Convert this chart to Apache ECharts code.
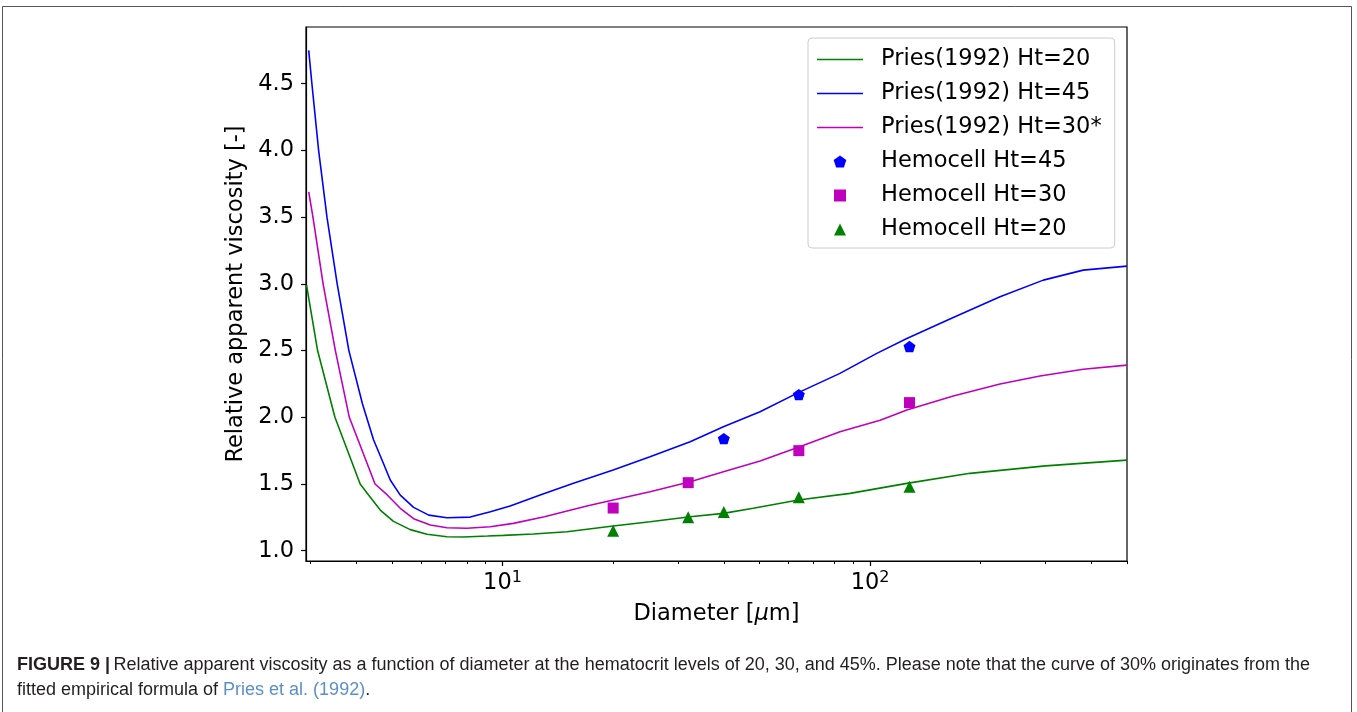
<!DOCTYPE html>
<html><head><meta charset="utf-8">
<script src="https://cdn.jsdelivr.net/npm/echarts@6/dist/echarts.min.js"></script>
<style>html,body{margin:0;padding:0;background:#fff;}#c{width:1357px;height:712px;}</style>
</head><body><div id="c"></div>
<script>
// ---- data ----
const pries20Diam = [2.93, 3.14, 3.5, 4.10, 4.32, 4.65, 5.05, 5.61, 6.23, 7.06, 7.83, 9.1, 10.06, 12.14, 14.97, 20.0, 25.2, 32.4, 39.9, 48.1, 63.8, 88.2, 125.9, 187, 300, 500];
const pries20Visc = [2.99, 2.5, 2.0, 1.5, 1.417, 1.305, 1.22, 1.158, 1.123, 1.105, 1.103, 1.11, 1.115, 1.125, 1.142, 1.185, 1.217, 1.255, 1.28, 1.318, 1.38, 1.43, 1.505, 1.58, 1.636, 1.679];
const pries45Diam = [2.97, 3.03, 3.16, 3.33, 3.55, 3.82, 4.16, 4.46, 4.75, 4.95, 5.27, 5.73, 6.3, 7.06, 8.17, 9.27, 10.49, 12.66, 15.6, 20.0, 25.2, 32.4, 39.9, 50.2, 63.8, 82.8, 104.3, 125.9, 168.4, 225.7, 296, 380, 500];
const pries45Visc = [4.75, 4.5, 4.0, 3.5, 3.0, 2.5, 2.1, 1.83, 1.65, 1.53, 1.417, 1.325, 1.267, 1.247, 1.252, 1.292, 1.335, 1.417, 1.505, 1.605, 1.704, 1.817, 1.929, 2.041, 2.185, 2.329, 2.479, 2.591, 2.748, 2.903, 3.028, 3.103, 3.133];
const pries30Diam = [2.97, 3.05, 3.25, 3.51, 3.83, 4.5, 4.85, 5.27, 5.73, 6.36, 7.06, 8.0, 9.26, 10.7, 13.0, 16.96, 20.0, 25.2, 32.4, 39.9, 50.2, 63.8, 82.8, 106.5, 125.9, 168.4, 225.7, 290, 380, 500];
const pries30Visc = [3.69, 3.5, 3.0, 2.5, 2.0, 1.5, 1.42, 1.318, 1.24, 1.193, 1.172, 1.168, 1.18, 1.205, 1.255, 1.335, 1.38, 1.442, 1.517, 1.592, 1.672, 1.775, 1.891, 1.978, 2.054, 2.16, 2.249, 2.31, 2.36, 2.391];
const hemo45Diam = [40, 64, 128];
const hemo45Visc = [1.84, 2.17, 2.53];
const hemo30Diam = [20, 32, 64, 128];
const hemo30Visc = [1.32, 1.51, 1.75, 2.11];
const hemo20Diam = [20, 32, 40, 64, 128];
const hemo20Visc = [1.15, 1.25, 1.29, 1.40, 1.48];
const xMajorTicks = [10, 100];
const xMinorTicks = [3, 4, 5, 6, 7, 8, 9, 20, 30, 40, 50, 60, 70, 80, 90, 200, 300, 400, 500];
const yTicks = [1.0, 1.5, 2.0, 2.5, 3.0, 3.5, 4.0, 4.5];
const seriesNames = ['Pries(1992) Ht=20', 'Pries(1992) Ht=45', 'Pries(1992) Ht=30*', 'Hemocell Ht=45', 'Hemocell Ht=30', 'Hemocell Ht=20'];

const zip = (a, b) => a.map((v, i) => [v, b[i]]);
const FONT = 'DejaVu Sans';
const FS = 22.5;
const GREEN = '#008000', BLUE = '#0000ff', MAGENTA = '#bf00bf';
const pentagon = 'path://M0,-1L0.951,-0.309L0.588,0.809L-0.588,0.809L-0.951,-0.309Z';
const square = 'path://M0,0L10,0L10,10L0,10Z';
const triangle = 'path://M0,-1L1,1L-1,1Z';
const lineIcon = 'path://M0,0L46,0L46,1.6L0,1.6Z';
const xMin = 2.92, xMax = 500, yMin = 0.923, yMax = 4.925;

const chart = echarts.init(document.getElementById('c'));
const lineS = (name, color, d, v) => ({
  name, type: 'line', data: zip(d, v), symbol: 'none', showSymbol: false,
  lineStyle: { color, width: 1.6 }, itemStyle: { color }, clip: true, z: 2, animation: false
});
const scatS = (name, color, sym, size, d, v) => ({
  name, type: 'scatter', data: zip(d, v), symbol: sym, symbolSize: size, symbolKeepAspect: true,
  itemStyle: { color, opacity: 1 }, z: 3, animation: false
});
chart.setOption({
  animation: false,
  backgroundColor: '#fff',
  textStyle: { fontFamily: FONT },
  grid: { left: 306, top: 27, right: 230, bottom: 151, show: true, borderColor: '#000', borderWidth: 1.2, backgroundColor: 'transparent' },
  xAxis: [{
    type: 'log', logBase: 10, min: xMin, max: xMax, position: 'bottom',
    axisLine: { show: true, lineStyle: { color: '#000', width: 1.2 } },
    axisTick: { show: true, inside: false, length: 5, lineStyle: { color: '#000', width: 1.2 }, customValues: xMajorTicks },
    axisLabel: {
      customValues: xMajorTicks, margin: 9, color: '#000', fontFamily: FONT,
      formatter: v => '{b|10}{s|' + Math.round(Math.log10(v)) + '}',
      rich: { b: { fontSize: FS, fontFamily: FONT, color: '#000', lineHeight: 27 },
              s: { fontSize: 16, fontFamily: FONT, color: '#000', verticalAlign: 'top', lineHeight: 16 } }
    },
    splitLine: { show: false }, minorTick: { show: false },
    name: '{n|Diameter [}{i|μ}{n|m]}', nameLocation: 'middle', nameGap: 42,
    nameTextStyle: { rich: { n: { fontSize: FS, fontFamily: FONT, color: '#000' }, i: { fontSize: FS, fontFamily: FONT, fontStyle: 'italic', color: '#000' } } }
  }, {
    type: 'log', logBase: 10, min: xMin, max: xMax, position: 'bottom',
    axisLine: { show: false },
    axisTick: { show: true, inside: false, length: 3, lineStyle: { color: '#000', width: 1 }, customValues: xMinorTicks },
    axisLabel: { show: false }, splitLine: { show: false }
  }],
  yAxis: {
    type: 'value', min: yMin, max: yMax,
    axisLine: { show: true, lineStyle: { color: '#000', width: 1.2 } },
    axisTick: { show: true, inside: false, length: 5, lineStyle: { color: '#000', width: 1.2 }, customValues: yTicks },
    axisLabel: { customValues: yTicks, margin: 12, color: '#000', fontSize: FS, fontFamily: FONT, formatter: v => v.toFixed(1) },
    splitLine: { show: false },
    name: 'Relative apparent viscosity [-]', nameLocation: 'middle', nameGap: 46,
    nameTextStyle: { fontSize: FS, fontFamily: FONT, color: '#000' }
  },
  legend: {
    orient: 'vertical', left: 808, top: 38, padding: [8, 13, 5, 9], itemGap: 7,
    itemWidth: 46, itemHeight: 12, selectedMode: false,
    backgroundColor: 'rgba(255,255,255,0.85)', borderColor: '#cccccc', borderWidth: 1, borderRadius: 4,
    textStyle: { fontFamily: FONT, fontSize: FS, color: '#000', lineHeight: 27, padding: [0, 0, 0, 13] },
    data: [
      { name: seriesNames[0], icon: lineIcon }, { name: seriesNames[1], icon: lineIcon }, { name: seriesNames[2], icon: lineIcon },
      { name: seriesNames[3], icon: pentagon },
      { name: seriesNames[4], icon: square },
      { name: seriesNames[5], icon: triangle }
    ]
  },
  series: [
    lineS(seriesNames[0], GREEN, pries20Diam, pries20Visc),
    lineS(seriesNames[1], BLUE, pries45Diam, pries45Visc),
    lineS(seriesNames[2], MAGENTA, pries30Diam, pries30Visc),
    scatS(seriesNames[3], BLUE, pentagon, 12, hemo45Diam, hemo45Visc),
    scatS(seriesNames[4], MAGENTA, square, 11, hemo30Diam, hemo30Visc),
    scatS(seriesNames[5], GREEN, triangle, 12, hemo20Diam, hemo20Visc)
  ],
  graphic: [
    { type: 'rect', silent: true, shape: { x: 2.5, y: 6.5, width: 1349, height: 730 }, style: { fill: 'none', stroke: '#555', lineWidth: 1 } },
    { type: 'text', left: 17, top: 656, silent: true, style: {
        text: '{b|FIGURE 9 |} {t|Relative apparent viscosity as a function of diameter at the hematocrit levels of 20, 30, and 45%. Please note that the curve of 30% originates from the}',
        rich: { b: { fontFamily: 'Liberation Sans', fontWeight: 'bold', fontSize: 18, fill: '#231f20' },
                t: { fontFamily: 'Liberation Sans', fontSize: 18, fill: '#231f20' } } } },
    { type: 'text', left: 17, top: 681, silent: true, style: {
        text: '{t|fitted empirical formula of }{l|Pries et al. (1992)}{t|.}',
        rich: { t: { fontFamily: 'Liberation Sans', fontSize: 18, fill: '#231f20' },
                l: { fontFamily: 'Liberation Sans', fontSize: 18, fill: '#5b8fc7' } } } }
  ]
});
</script></body></html>
